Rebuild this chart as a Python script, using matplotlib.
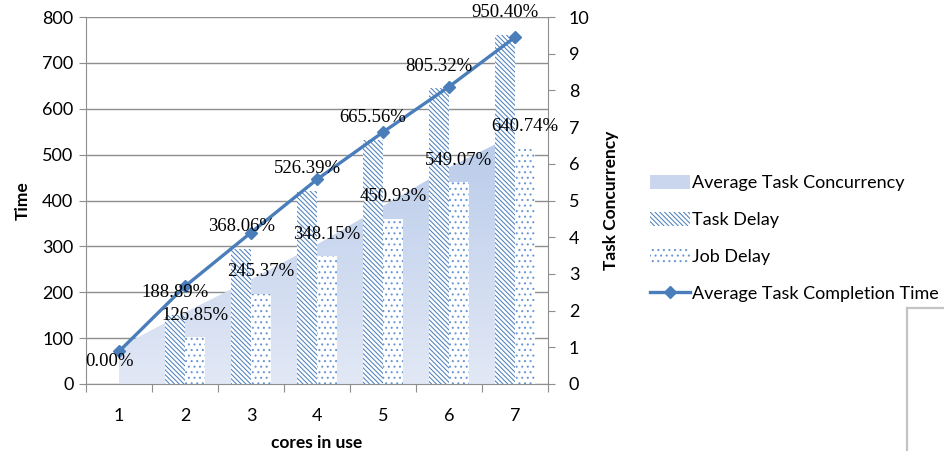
import numpy as np
import matplotlib
matplotlib.use("Agg")
import matplotlib.pyplot as plt
from matplotlib.patches import Patch
from matplotlib.lines import Line2D
from matplotlib.colors import LinearSegmentedColormap

# ---- data ----
cores = [1, 2, 3, 4, 5, 6, 7]
avg_task_concurrency = [1.0, 1.95, 2.85, 3.8, 4.85, 5.9, 6.8]
task_delay = [0.0, 1.8889, 3.6806, 5.2639, 6.6556, 8.0532, 9.5040]
job_delay = [0.0, 1.2685, 2.4537, 3.4815, 4.5093, 5.4907, 6.4074]
completion_time = [71, 213, 330, 446, 549, 648, 756]
time_ticks = [0, 100, 200, 300, 400, 500, 600, 700, 800]
conc_ticks = [0, 1, 2, 3, 4, 5, 6, 7, 8, 9, 10]

SANS = "Lato"
SERIF = "Liberation Serif"
GRID = "#8e8e8e"
LINE_BLUE = "#4a7ebb"
HATCH_BLUE = "#4f81bd"
DOT_BLUE = "#6a98d4"
TASK_HATCH = "\\" * 7
JOB_HATCH = "..."

plt.rcParams["hatch.linewidth"] = 0.75

W, H = 945, 451
fig = plt.figure(figsize=(W / 100, H / 100), dpi=100)
rect = [86 / W, 67 / H, 462 / W, 367 / H]

# primary axis: Time scale and gridlines
ax = fig.add_axes(rect)
ax.set_xlim(0.5, 7.5)
ax.set_ylim(0, 800)
ax.set_yticks(time_ticks)
ax.set_axisbelow(True)
ax.grid(axis="y", color=GRID, linewidth=1.0)
for s in ("top", "right", "bottom"):
    ax.spines[s].set_visible(False)
ax.spines["left"].set_color(GRID)
ax.tick_params(axis="y", direction="out", length=5, color=GRID,
               labelsize=13, pad=4)
ax.set_xticks(np.arange(0.5, 8.0, 1.0))
ax.set_xticklabels([])
ax.set_xticks(cores, minor=True)
ax.set_xticklabels([str(c) for c in cores], minor=True)
ax.tick_params(axis="x", which="major", direction="out", length=6, color=GRID)
ax.tick_params(axis="x", which="minor", length=0, labelsize=13, pad=17)
for lbl in ax.get_yticklabels() + ax.get_xticklabels(minor=True):
    lbl.set_fontfamily(SANS)
ax.set_ylabel("Time", fontfamily=SANS, fontweight="bold", fontsize=12.5,
              labelpad=8)
ax.set_xlabel("cores in use", fontfamily=SANS, fontweight="bold",
              fontsize=12.5, labelpad=8)

# secondary axis: Task Concurrency scale (area + bars)
ax2 = ax.twinx()
ax2.set_ylim(0, 10)
ax2.set_yticks(conc_ticks)
for s in ("top", "left"):
    ax2.spines[s].set_visible(False)
ax2.spines["right"].set_color(GRID)
ax2.spines["bottom"].set_color(GRID)
ax2.tick_params(axis="y", direction="out", length=5, color=GRID,
                labelsize=13, pad=10)
for lbl in ax2.get_yticklabels():
    lbl.set_fontfamily(SANS)
ax2.set_ylabel("Task Concurrency", fontfamily=SANS, fontweight="bold",
               fontsize=12.5, labelpad=10)

# gradient-filled area for average concurrency
poly = ax2.fill_between(cores, 0, avg_task_concurrency,
                        facecolor="none", edgecolor="none")
grad_cmap = LinearSegmentedColormap.from_list(
    "conc", ["#e2e8f5", "#b9cbea"])
top = max(avg_task_concurrency)
img = ax2.imshow(np.linspace(0, 1, 256).reshape(-1, 1), cmap=grad_cmap,
                 extent=[cores[0], cores[-1], 0, top], origin="lower",
                 aspect="auto", zorder=1)
img.set_clip_path(poly.get_paths()[0], transform=ax2.transData)
ax2.set_xlim(0.5, 7.5)
ax2.set_ylim(0, 10)

bw = 0.3
x = np.array(cores, dtype=float)
ax2.bar(x - bw / 2, task_delay, width=bw, facecolor="white",
        edgecolor=HATCH_BLUE, hatch=TASK_HATCH, linewidth=0, zorder=2)
ax2.bar(x + bw / 2, job_delay, width=bw, facecolor="white",
        edgecolor=DOT_BLUE, hatch=JOB_HATCH, linewidth=0, zorder=2)

# top layer: completion time line and data labels
ax3 = fig.add_axes(rect, sharex=ax, sharey=ax)
ax3.axis("off")
ax3.patch.set_visible(False)
ax3.plot(cores, completion_time, color=LINE_BLUE, linewidth=2.4,
         marker="D", markersize=6.5, markerfacecolor=LINE_BLUE,
         markeredgecolor=LINE_BLUE, clip_on=False)

label_kw = dict(xycoords=ax2.transData, xytext=(0, 16),
                textcoords="offset points", ha="center", va="center",
                fontfamily=SERIF, fontsize=13.5, annotation_clip=False)
for xi, v in zip(x - bw / 2, task_delay):
    ax3.annotate(f"{v * 100:.2f}%", xy=(xi, v), **label_kw)
for xi, v in list(zip(x + bw / 2, job_delay))[1:]:
    ax3.annotate(f"{v * 100:.2f}%", xy=(xi, v), **label_kw)

# legend
handles = [
    Patch(facecolor="#c9d6ee", edgecolor="none"),
    Patch(facecolor="white", edgecolor=HATCH_BLUE, hatch=TASK_HATCH,
          linewidth=0),
    Patch(facecolor="white", edgecolor=DOT_BLUE, hatch=JOB_HATCH,
          linewidth=0),
    Line2D([], [], color=LINE_BLUE, linewidth=2.4, marker="D",
           markersize=6.5),
]
labels = ["Average Task Concurrency", "Task Delay", "Job Delay",
          "Average Task Completion Time"]
fig.legend(handles, labels, loc="upper left",
           bbox_to_anchor=(650 / W, 1 - 175 / H), frameon=False,
           prop={"family": SANS, "size": 13}, handlelength=2.2,
           handleheight=0.8, handletextpad=0.15, labelspacing=1.15,
           borderpad=0, borderaxespad=0)

# partial frame in the lower right corner
fig.add_artist(Line2D([907 / W, 907 / W], [0, 1 - 308 / H],
                      transform=fig.transFigure, color="#c4c4c4", lw=1.6))
fig.add_artist(Line2D([907 / W, 1], [1 - 308 / H, 1 - 308 / H],
                      transform=fig.transFigure, color="#c4c4c4", lw=1.6))

fig.savefig("out.png", dpi=100, facecolor="white")
